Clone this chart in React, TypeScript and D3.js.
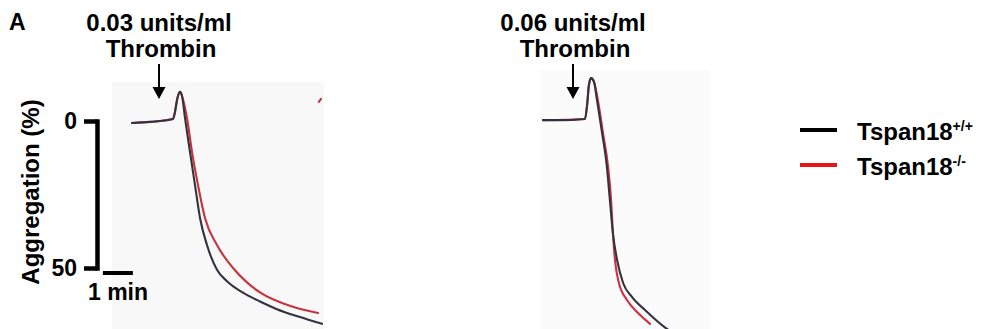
import React, { useEffect, useRef } from "react";
import * as d3 from "d3";

// time in minutes after thrombin was added, aggregation in %
const leftBlackT = [-0.9, -0.3, 0.467, 0.533, 0.6, 0.7, 0.767, 0.867, 1.033, 1.2, 1.367, 1.6, 1.933, 2.267, 2.8, 3.367, 3.933, 4.7, 5.433];
const leftBlackV = [0.7, 0.3, -0.7, -3.1, -7.1, -9.9, -8.5, -1.0, 10.5, 21.8, 33.0, 42.2, 50.6, 54.5, 58.4, 61.4, 64.0, 66.7, 69.0];
const leftRedT = [-0.9, 0.467, 0.533, 0.6, 0.7, 0.767, 0.933, 1.1, 1.3, 1.533, 1.933, 2.467, 2.933, 3.367, 4.467, 5.3];
const leftRedV = [0.7, -0.7, -3.1, -7.1, -9.9, -8.5, -1.0, 10.5, 21.8, 33.0, 42.2, 50.0, 54.9, 58.3, 63.2, 65.3];
const leftRedTailT = [5.33, 5.4];
const leftRedTailV = [-6.5, -7.5];

const rightBlackT = [-1.0, -0.43, 0.4, 0.47, 0.53, 0.6, 0.7, 0.8, 0.97, 1.13, 1.23, 1.33, 1.47, 1.67, 1.97, 2.4, 3.13, 3.4];
const rightBlackV = [-0.3, -0.3, -0.7, -5.4, -12.2, -14.6, -13.3, -7.1, 4.1, 15.6, 26.9, 38.1, 47.3, 55.1, 59.9, 64.3, 70.7, 72.4];
const rightRedT = [-1.0, 0.4, 0.47, 0.53, 0.6, 0.7, 0.83, 1.0, 1.17, 1.27, 1.33, 1.4, 1.53, 1.8, 2.17, 2.57];
const rightRedV = [-0.3, -0.7, -5.4, -12.2, -14.6, -13.3, -7.1, 4.1, 15.6, 26.9, 38.1, 47.3, 55.1, 60.9, 65.3, 69.0];

const yTicks = [0, 50];
const doses = ["0.03 units/ml", "0.06 units/ml"];
const agonist = "Thrombin";
const legendNames = ["Tspan18", "Tspan18"];
const legendSups = ["+/+", "-/-"];
const legendColors = ["#000000", "#e8141c"];

const W = 984;
const H = 329;
const FONT = "'Liberation Sans', Arial, Helvetica, sans-serif";

const App = () => {
  const ref = useRef<SVGSVGElement>(null);

  useEffect(() => {
    const svg = d3.select(ref.current);
    svg.selectAll("*").remove();

    const y = d3.scaleLinear().domain([0, 50]).range([121, 268]);
    const xl = d3.scaleLinear().domain([0, 1]).range([159, 189]);
    const xr = d3.scaleLinear().domain([0, 1]).range([573, 603]);

    // faint scanned paper
    svg.append("rect").attr("x", 112).attr("y", 82).attr("width", 212).attr("height", H - 82).attr("fill", "#f8f8f8");
    svg.append("rect").attr("x", 540).attr("y", 70).attr("width", 170).attr("height", H - 70).attr("fill", "#fbfbfb");

    const line = (x: d3.ScaleLinear<number, number>) =>
      d3.line<[number, number]>()
        .x(d => x(d[0]))
        .y(d => y(d[1]))
        .curve(d3.curveMonotoneX);

    const trace = (x: d3.ScaleLinear<number, number>, t: number[], v: number[], color: string) => {
      svg.append("path")
        .datum(t.map((d, i) => [d, v[i]] as [number, number]))
        .attr("d", line(x))
        .attr("fill", "none")
        .attr("stroke", color)
        .attr("stroke-width", 2.1)
        .attr("stroke-linejoin", "round")
        .attr("stroke-linecap", "round");
    };

    trace(xl, leftRedT, leftRedV, "#c8323e");
    trace(xl, leftRedTailT, leftRedTailV, "#c8323e");
    trace(xl, leftBlackT, leftBlackV, "#33333f");
    trace(xr, rightRedT, rightRedV, "#d03040");
    trace(xr, rightBlackT, rightBlackV, "#33333f");

    // titles and arrows
    [xl, xr].forEach((x, i) => {
      const cx = x(0);
      svg.append("text").attr("x", cx).attr("y", 31).attr("text-anchor", "middle")
        .attr("font-family", FONT).attr("font-weight", "bold").attr("font-size", 24).text(doses[i]);
      svg.append("text").attr("x", cx + 2).attr("y", 57).attr("text-anchor", "middle")
        .attr("font-family", FONT).attr("font-weight", "bold").attr("font-size", 24).text(agonist);
      svg.append("line").attr("x1", cx).attr("x2", cx).attr("y1", 64).attr("y2", 90)
        .attr("stroke", "#000").attr("stroke-width", 2);
      svg.append("path")
        .attr("d", `M${cx - 6.5},87 L${cx + 6.5},87 L${cx},99 Z`)
        .attr("fill", "#000");
    });

    svg.append("text").attr("x", 9).attr("y", 30)
      .attr("font-family", FONT).attr("font-weight", "bold").attr("font-size", 23).text("A");

    // aggregation scale bar
    const axis = svg.append("g").attr("transform", "translate(97,0)")
      .call(d3.axisLeft(y).tickValues(yTicks).tickFormat(d3.format("d")).tickSizeInner(13).tickSizeOuter(0).tickPadding(7));
    axis.select(".domain").attr("stroke", "#000").attr("stroke-width", 4.5).attr("stroke-linecap", "square");
    axis.selectAll(".tick line").attr("stroke", "#000").attr("stroke-width", 4.5);
    axis.selectAll(".tick text").attr("font-family", FONT).attr("font-weight", "bold").attr("font-size", 23).attr("fill", "#000");

    svg.append("text").attr("transform", "translate(39,192) rotate(-90)").attr("text-anchor", "middle")
      .attr("font-family", FONT).attr("font-weight", "bold").attr("font-size", 24).text("Aggregation (%)");

    // time scale bar
    svg.append("line").attr("x1", xl(-1.87)).attr("x2", xl(-0.87)).attr("y1", 273).attr("y2", 273)
      .attr("stroke", "#000").attr("stroke-width", 4);
    svg.append("text").attr("x", 118).attr("y", 300).attr("text-anchor", "middle")
      .attr("font-family", FONT).attr("font-weight", "bold").attr("font-size", 23).text("1 min");

    // legend
    legendNames.forEach((name, i) => {
      const ly = 130 + i * 35;
      svg.append("line").attr("x1", 800).attr("x2", 837).attr("y1", ly).attr("y2", ly)
        .attr("stroke", legendColors[i]).attr("stroke-width", 4);
      const t = svg.append("text").attr("x", 857).attr("y", ly + 10)
        .attr("font-family", FONT).attr("font-weight", "bold").attr("font-size", 24);
      t.append("tspan").text(name);
      t.append("tspan").attr("font-size", 14).attr("dy", -9).text(legendSups[i]);
    });
  }, []);

  return (
    <svg ref={ref} width={W} height={H} style={{ position: "absolute", left: 0, top: 0, background: "#fff" }} />
  );
};

export default App;
